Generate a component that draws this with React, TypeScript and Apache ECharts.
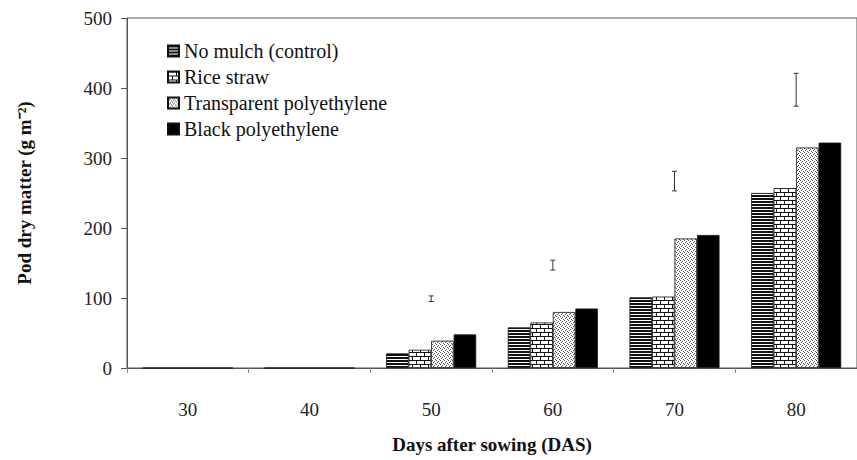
import React, { useEffect, useRef } from "react";
import * as echarts from "echarts";

// Days after sowing
const days = ["30", "40", "50", "60", "70", "80"];

// Pod dry matter (g m-2) per mulch treatment
const noMulch = [0, 0, 21, 58, 101, 250];
const riceStraw = [0, 0, 26, 65, 102, 257];
const transparentPE = [0, 0, 39, 80, 185, 315];
const blackPE = [0, 0, 48, 85, 190, 322];

// LSD bars (low, high) for each sampling date
const lsdLow = [null, null, 95, 140, 253, 374];
const lsdHigh = [null, null, 103, 154, 281, 421];

const seriesNames = [
  "No mulch (control)",
  "Rice straw",
  "Transparent polyethylene",
  "Black polyethylene",
];

const FONT = "Liberation Serif";

// Builds a small repeating fill from a list of [x, y, w, h] ink rectangles.
function makeFill(w: number, h: number, ink: string, rects: number[][]) {
  const c = document.createElement("canvas");
  c.width = w;
  c.height = h;
  const ctx = c.getContext("2d")!;
  ctx.fillStyle = "#fff";
  ctx.fillRect(0, 0, w, h);
  ctx.fillStyle = ink;
  rects.forEach(([x, y, rw, rh]) => ctx.fillRect(x, y, rw, rh));
  return {
    image: c.toDataURL("image/png"),
    repeat: "repeat",
    imageWidth: w,
    imageHeight: h,
  };
}

export default function App() {
  const ref = useRef<HTMLDivElement>(null);

  useEffect(() => {
    if (!ref.current) return;
    const chart = echarts.init(ref.current, undefined, { renderer: "svg" });

    const border = { borderColor: "#111", borderWidth: 0.8 };

    // horizontal hatching
    const stripes = makeFill(4, 3, "#111", [[0, 0, 4, 2]]);
    // brick wall with staggered joints
    const bricks = makeFill(8, 8, "#111", [
      [0, 0, 8, 1],
      [0, 1, 1, 3],
      [0, 4, 8, 1],
      [4, 5, 1, 3],
    ]);
    // fine stipple
    const stipple = makeFill(4, 4, "#555", [
      [0, 0, 1, 1],
      [2, 1, 1, 1],
      [1, 2, 1, 1],
      [3, 3, 1, 1],
    ]);

    const lsdData = days
      .map((_, i) => [i, lsdLow[i], lsdHigh[i]])
      .filter((d) => d[1] !== null);

    chart.setOption({
      animation: false,
      textStyle: { fontFamily: FONT },
      legend: {
        orient: "vertical",
        left: 162,
        top: 35,
        itemWidth: 11,
        itemHeight: 11,
        itemGap: 4,
        icon: "rect",
        data: seriesNames,
        textStyle: {
          fontFamily: FONT,
          fontSize: 20,
          lineHeight: 22,
          color: "#111",
        },
      },
      grid: {
        left: 127,
        right: -9,
        top: 18,
        bottom: 92,
        show: true,
        borderColor: "#555",
        borderWidth: 1,
      },
      xAxis: {
        type: "category",
        data: days,
        name: "Days after sowing (DAS)",
        nameLocation: "middle",
        nameGap: 67,
        nameTextStyle: { fontFamily: FONT, fontSize: 19, fontWeight: "bold", color: "#111" },
        axisLine: { lineStyle: { color: "#555", width: 1 } },
        axisTick: { show: true, length: 5, lineStyle: { color: "#888" } },
        axisLabel: { fontFamily: FONT, fontSize: 19, color: "#222", margin: 32 },
      },
      yAxis: {
        type: "value",
        min: 0,
        max: 500,
        interval: 100,
        name: "Pod dry matter (g m\u207B\u00B2)",
        nameLocation: "middle",
        nameGap: 93,
        nameTextStyle: { fontFamily: FONT, fontSize: 19, fontWeight: "bold", color: "#111" },
        splitLine: { show: false },
        axisLine: { show: true, lineStyle: { color: "#555", width: 1 } },
        axisTick: { show: true, length: 6, lineStyle: { color: "#555" } },
        axisLabel: { fontFamily: FONT, fontSize: 19, color: "#222", margin: 15 },
      },
      series: [
        {
          name: seriesNames[0],
          type: "bar",
          data: noMulch,
          barGap: "0%",
          barCategoryGap: "26%",
          itemStyle: { color: stripes, ...border },
        },
        {
          name: seriesNames[1],
          type: "bar",
          data: riceStraw,
          barGap: "0%",
          barCategoryGap: "26%",
          itemStyle: { color: bricks, ...border },
        },
        {
          name: seriesNames[2],
          type: "bar",
          data: transparentPE,
          barGap: "0%",
          barCategoryGap: "26%",
          itemStyle: { color: stipple, ...border },
        },
        {
          name: seriesNames[3],
          type: "bar",
          data: blackPE,
          barGap: "0%",
          barCategoryGap: "26%",
          itemStyle: { color: "#000", ...border },
        },
        {
          name: "LSD",
          type: "custom",
          data: lsdData,
          encode: { x: 0, y: [1, 2] },
          z: 10,
          renderItem: (params: any, api: any) => {
            const cat = api.value(0);
            const lo = api.coord([cat, api.value(1)]);
            const hi = api.coord([cat, api.value(2)]);
            const x = lo[0];
            const w = 2.5;
            const style = { stroke: "#333", lineWidth: 1 };
            return {
              type: "group",
              children: [
                { type: "line", shape: { x1: x, y1: lo[1], x2: x, y2: hi[1] }, style },
                { type: "line", shape: { x1: x - w, y1: lo[1], x2: x + w, y2: lo[1] }, style },
                { type: "line", shape: { x1: x - w, y1: hi[1], x2: x + w, y2: hi[1] }, style },
              ],
            };
          },
        },
      ],
    });

    return () => chart.dispose();
  }, []);

  return (
    <div
      ref={ref}
      style={{ position: "fixed", left: 0, top: 0, width: 857, height: 460, background: "#fff" }}
    />
  );
}
